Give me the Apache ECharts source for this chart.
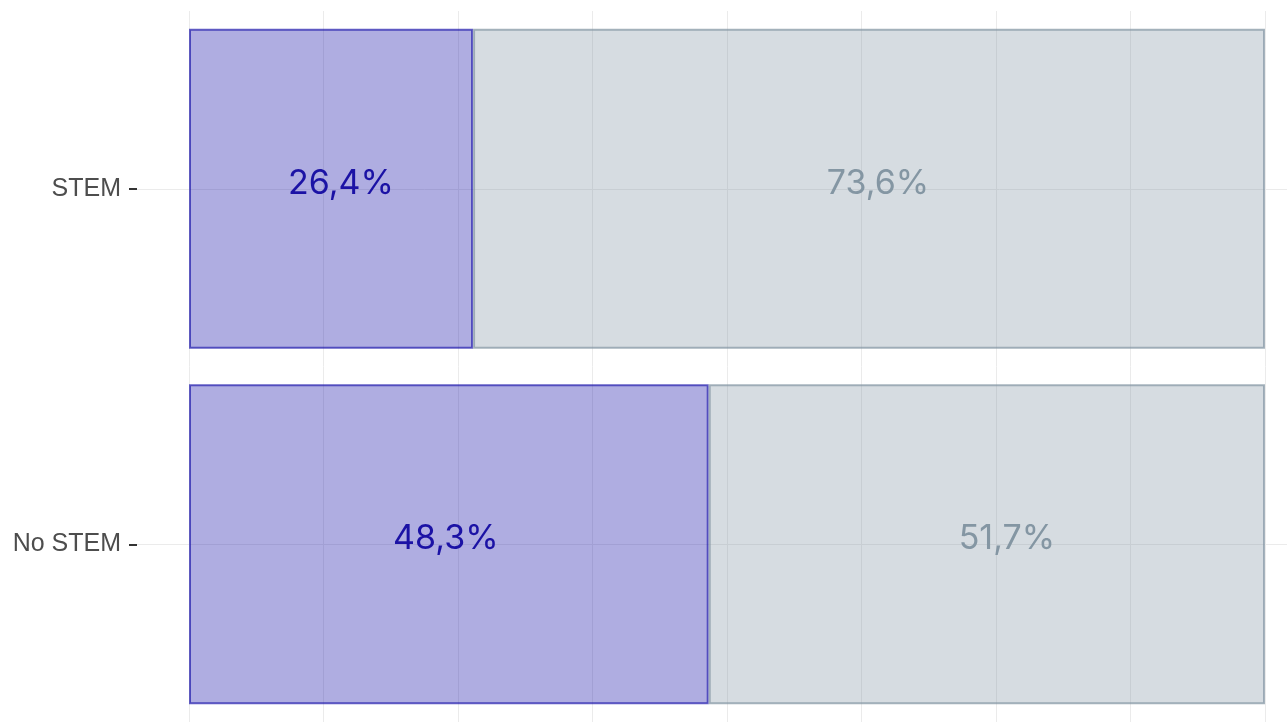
<!DOCTYPE html>
<html>
<head>
<meta charset="utf-8">
<title>STEM</title>
<script src="https://cdn.jsdelivr.net/npm/echarts@6.0.0/dist/echarts.min.js"></script>
<style>
  html, body { margin: 0; padding: 0; background: #fff; }
  #chart { width: 1287px; height: 722px; }
</style>
</head>
<body>
<div id="chart"></div>
<script>
// categories, top to bottom
const categories = ["STEM", "No STEM"];
// share of the first group (purple) and the rest (grey), in %
const shareYes = [26.4, 48.3];
const shareNo = [73.6, 51.7];

const fmt = (p) => p.value.toFixed(1).replace(".", ",") + "%";

// small label nudges (px) so text sits as in the original
const yesNudge = [[10, -5], [-3, -5]];
const noNudge = [[9, -5], [20, -5]];

const chart = echarts.init(document.getElementById("chart"));

const withNudge = (vals, nudges) =>
  vals.map((v, i) => ({ value: v, label: { offset: nudges[i] } }));

const option = {
  backgroundColor: "#ffffff",
  animation: false,
  grid: [
    // bars
    { left: 189, right: 22, top: 11, bottom: 0 },
    // category axis + horizontal grid lines (wider panel)
    { left: 137, right: 0, top: 11, bottom: 0 }
  ],
  xAxis: [
    {
      gridIndex: 0,
      type: "value",
      min: 0,
      max: 100,
      interval: 12.5,
      axisLine: { show: false },
      axisTick: { show: false },
      axisLabel: { show: false },
      splitLine: { show: true, lineStyle: { color: "#ebebeb", width: 1 } }
    },
    {
      gridIndex: 1,
      type: "value",
      min: 0,
      max: 1,
      show: false,
      splitLine: { show: false }
    }
  ],
  yAxis: [
    {
      gridIndex: 0,
      type: "category",
      data: categories,
      inverse: true,
      axisLine: { show: false },
      axisTick: { show: false },
      axisLabel: { show: false },
      splitLine: { show: false }
    },
    {
      gridIndex: 1,
      type: "category",
      data: categories,
      inverse: true,
      axisLine: { show: false },
      axisTick: {
        show: true,
        alignWithLabel: true,
        length: 8,
        lineStyle: { color: "#333333", width: 2 }
      },
      axisLabel: {
        margin: 16,
        color: "#4d4d4d",
        fontSize: 25,
        fontFamily: "Liberation Sans, Arial, sans-serif"
      },
      splitLine: {
        show: true,
        alignWithLabel: true,
        lineStyle: { color: "#ebebeb", width: 1 }
      }
    }
  ],
  series: [
    {
      name: "yes",
      type: "bar",
      stack: "total",
      xAxisIndex: 0,
      yAxisIndex: 0,
      data: withNudge(shareYes, yesNudge),
      barWidth: 320,
      itemStyle: {
        color: "rgba(26, 20, 170, 0.35)",
        borderColor: "rgba(26, 20, 170, 0.68)",
        borderWidth: 2
      },
      label: {
        show: true,
        position: "inside",
        formatter: fmt,
        color: "#1b12a5",
        fontSize: 34,
        fontFamily: "Inter, sans-serif"
      }
    },
    {
      name: "no",
      type: "bar",
      stack: "total",
      xAxisIndex: 0,
      yAxisIndex: 0,
      data: withNudge(shareNo, noNudge),
      barWidth: 320,
      itemStyle: {
        color: "rgba(132, 150, 163, 0.33)",
        borderColor: "rgba(132, 150, 163, 0.72)",
        borderWidth: 2
      },
      label: {
        show: true,
        position: "inside",
        formatter: fmt,
        color: "#8496a3",
        fontSize: 34,
        fontFamily: "Inter, sans-serif"
      }
    }
  ]
};

chart.setOption(option);
</script>
</body>
</html>
